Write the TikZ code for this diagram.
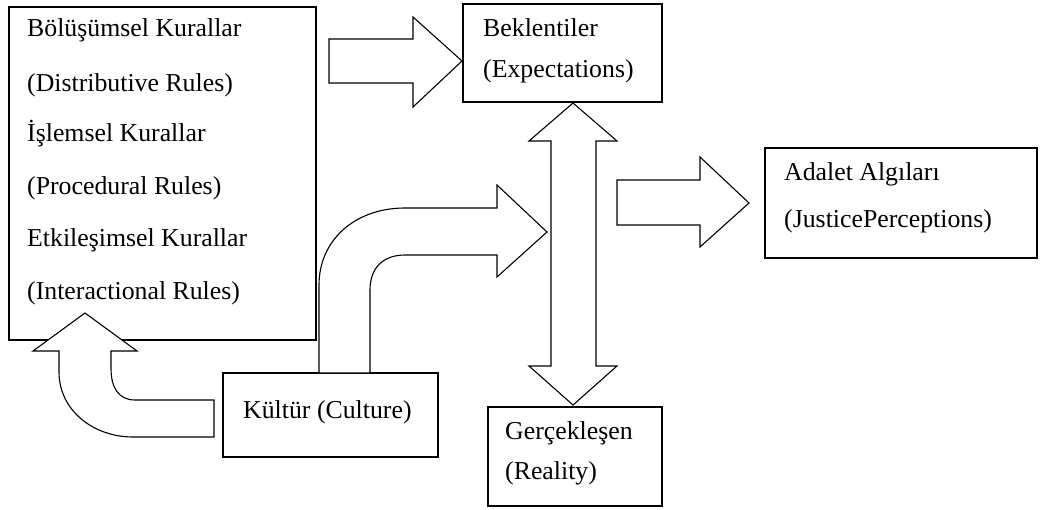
\documentclass[tikz,border=0pt]{standalone}
\usepackage{fontspec}
\setmainfont{Liberation Serif}
\begin{document}
\begin{tikzpicture}[x=1pt,y=-1pt,
  box/.style={draw, line width=1.3pt, inner sep=0pt},
  txt/.style={anchor=base west, inner sep=0pt, font=\fontsize{25.8}{30}\selectfont},
  blk/.style={draw, line width=1.1pt, line join=miter, fill=white}]
\useasboundingbox (0,0) rectangle (1046,510);
% boxes
\draw[box] (9,7) rectangle (316,340);
\coordinate (rules) at (162.5,173.5);
\draw[box] (463,4) rectangle (662,102);
\coordinate (bek) at (562.5,53);
\draw[box] (765,148) rectangle (1037,258);
\draw[box] (223,373) rectangle (438,457);
\draw[box] (488,407) rectangle (662,506);
% texts
\node[txt] (t1) at (27,37) {Bölüşümsel Kurallar};
\node[txt] (t2) at (27,92) {(Distributive Rules)};
\node[txt] (t3) at (27,142) {İşlemsel Kurallar};
\node[txt] (t4) at (27,195) {(Procedural Rules)};
\node[txt] (t5) at (27,247) {Etkileşimsel Kurallar};
\node[txt] (t6) at (27,300) {(Interactional Rules)};
\node[txt] (b1) at (483,37) {Beklentiler};
\node[txt] (b2) at (483,78) {(Expectations)};
\node[txt] (a1) at (784,181) {Adalet Algıları};
\node[txt] (a2) at (784,228) {(JusticePerceptions)};
\node[txt] (k1) at (243,418) {Kültür (Culture)};
\node[txt] (g1) at (505,439) {Gerçekleşen};
\node[txt] (g2) at (505,479) {(Reality)};
% block arrow: rules -> expectations
\draw[blk] (329,39) -- (413,39) -- (413,17) -- (462,61) -- (413,107) -- (413,83) -- (329,83) -- cycle;
% block arrow: -> justice
\draw[blk] (617,180) -- (700,180) -- (700,157) -- (749,203) -- (700,247) -- (700,225) -- (617,225) -- cycle;
% double arrow expectations <-> reality
\draw[blk] (573,103) -- (617,141) -- (596,141) -- (596,366) -- (617,366) -- (573,405) -- (529,366) -- (551,366) -- (551,141) -- (529,141) -- cycle;
% curved arrow culture -> double arrow
\draw[blk] (319,373) -- (319,285) .. controls (319,240) and (355,208) .. (405,208) -- (497,208) -- (497,185) -- (547,232) -- (497,277) -- (497,255) -- (405,255) .. controls (383,255) and (370,268) .. (370,290) -- (370,373) -- cycle;
% curved arrow culture -> rules
\draw[blk] (214,437) -- (133,437) .. controls (93,437) and (59,410) .. (59,372) -- (59,351) -- (33,351) -- (85,313) -- (137,351) -- (111,351) -- (111,368) .. controls (111,387) and (118,400) .. (135,400) -- (214,400) -- cycle;
\end{tikzpicture}
\end{document}
